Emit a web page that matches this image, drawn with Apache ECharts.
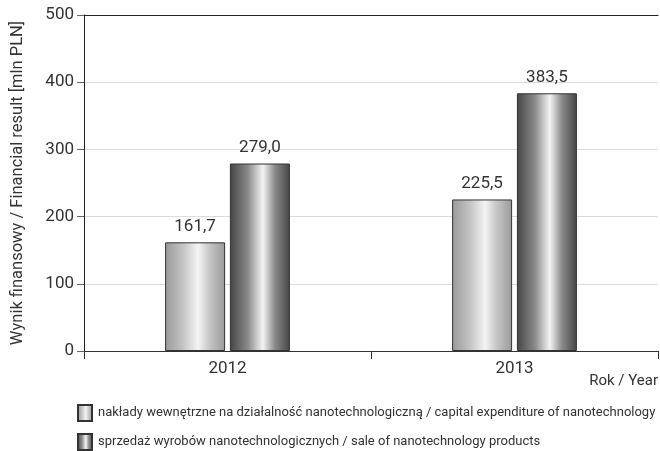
<!DOCTYPE html>
<html>
<head>
<meta charset="utf-8">
<script src="https://cdn.jsdelivr.net/npm/echarts@6/dist/echarts.min.js"></script>
<style>
  html, body { margin: 0; padding: 0; background: #fff; }
  #chart { width: 660px; height: 451px; }
</style>
</head>
<body>
<div id="chart"></div>
<script>
// dane
const years = ['2012', '2013']
const seriesNames = [
    'nakłady wewnętrzne na działalność nanotechnologiczną / capital expenditure of nanotechnology',
    'sprzedaż wyrobów nanotechnologicznych / sale of nanotechnology products'
]
const capitalExpenditure = [161.7, 225.5]
const productSales = [279.0, 383.5]
const yTicks = [0, 100, 200, 300, 400, 500]

const FONT = 'Roboto, sans-serif'

// metaliczny gradient slupka
const metal = (edge, mid) => new echarts.graphic.LinearGradient(0, 0, 1, 0, [
    { offset: 0, color: edge },
    { offset: 0.3, color: mid },
    { offset: 0.55, color: '#f4f4f4' },
    { offset: 0.75, color: mid },
    { offset: 1, color: edge }
])

const fmt = v => v.toFixed(1).replace('.', ',')

const makeSeries = (name, data, edge, mid) => ({
    name,
    type: 'bar',
    data,
    barWidth: 60,
    barGap: '8%',
    itemStyle: {
        color: metal(edge, mid),
        borderColor: '#333',
        borderWidth: 1
    },
    label: {
        show: true,
        position: 'top',
        distance: 7,
        fontFamily: FONT,
        fontSize: 17,
        color: '#333',
        formatter: p => fmt(p.value)
    }
})

const chart = echarts.init(document.getElementById('chart'), null, { renderer: 'canvas' })

chart.setOption({
    animation: false,
    title: {
        text: 'Rok / Year',
        right: 2,
        top: 374,
        padding: 0,
        textStyle: { fontFamily: FONT, fontSize: 15, fontWeight: 'normal', color: '#333' }
    },
    legend: {
        data: seriesNames,
        orient: 'vertical',
        left: 77,
        top: 404,
        padding: 0,
        icon: 'rect',
        itemWidth: 14,
        itemHeight: 16,
        itemGap: 11,
        textStyle: { fontFamily: FONT, fontSize: 13, color: '#333', padding: [0, 0, 0, 1] }
    },
    grid: { left: 84, right: 2, top: 15, bottom: 100, outerBoundsMode: 'none', containLabel: false },
    xAxis: [{
        type: 'category',
        data: years,
        axisLine: { lineStyle: { color: '#333', width: 1 } },
        axisTick: { show: true, length: 8, lineStyle: { color: '#333' } },
        axisLabel: { fontFamily: FONT, fontSize: 17, color: '#333', margin: 9 }
    }, {
        type: 'category',
        data: years,
        position: 'top',
        axisLine: { lineStyle: { color: '#222', width: 1 } },
        axisTick: { show: false },
        axisLabel: { show: false }
    }],
    yAxis: {
        type: 'value',
        min: yTicks[0],
        max: yTicks[yTicks.length - 1],
        interval: 100,
        name: 'Wynik finansowy / Financial result [mln PLN]',
        nameLocation: 'middle',
        nameGap: 58,
        nameTextStyle: { fontFamily: FONT, fontSize: 16.5, color: '#333' },
        axisLine: { show: true, lineStyle: { color: '#222' } },
        axisTick: { show: true, length: 7, lineStyle: { color: '#666' } },
        axisLabel: { fontFamily: FONT, fontSize: 17, color: '#333', margin: 10 },
        splitLine: { lineStyle: { color: '#dcdcdc', width: 1 } }
    },
    series: [
        makeSeries(seriesNames[0], capitalExpenditure, '#9a9a9a', '#c4c4c4'),
        makeSeries(seriesNames[1], productSales, '#454545', '#8a8a8a')
    ]
})
</script>
</body>
</html>
